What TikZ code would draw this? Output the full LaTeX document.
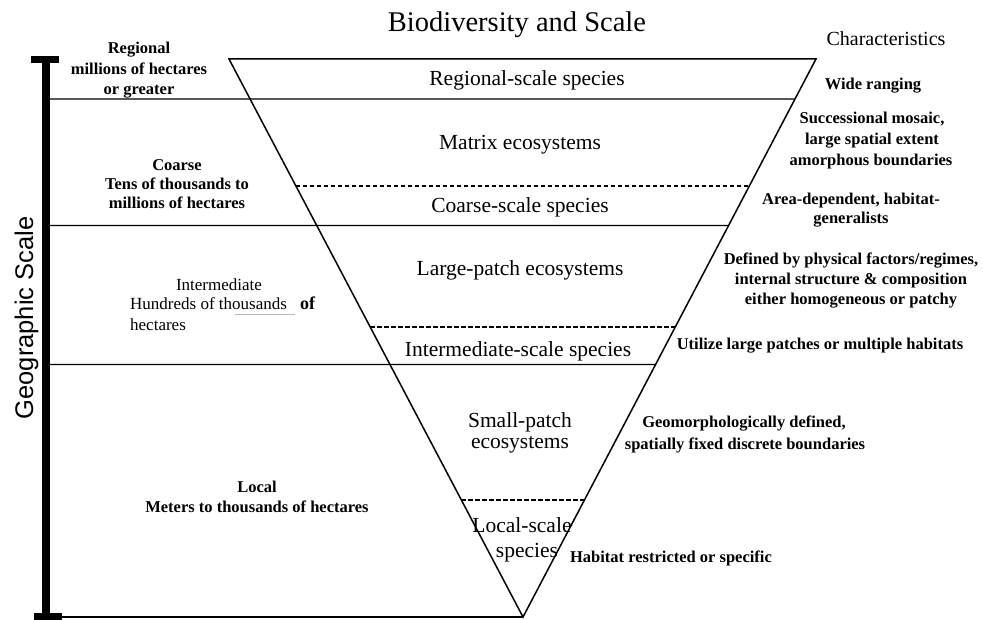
\documentclass[tikz,border=0pt]{standalone}
\usepackage{fontspec}
\setmainfont{Liberation Serif}
\newfontfamily\axisfont{Liberation Sans}
\usetikzlibrary{calc}
\begin{document}
\begin{tikzpicture}[x=1pt,y=-1pt,
  edge/.style={line width=1.5pt, line join=miter},
  rule/.style={line width=1.4pt},
  split/.style={line width=1.4pt, dash pattern=on 4.5pt off 2.5pt},
  ttl/.style={font=\fontsize{28.5}{32}\selectfont, anchor=base, inner sep=0pt},
  head/.style={font=\fontsize{20}{22}\selectfont, anchor=base, inner sep=0pt},
  band/.style={font=\fontsize{21.5}{24}\selectfont, anchor=base, inner sep=0pt},
  note/.style={font=\bfseries\fontsize{16.5}{19}\selectfont, anchor=base, inner sep=0pt},
  plain/.style={font=\fontsize{17}{19}\selectfont, anchor=base, inner sep=0pt},
]
\useasboundingbox (0,0) rectangle (983,620);
\fill[white] (0,0) rectangle (983,620);

% corners of the inverted triangle
\coordinate (TL) at (229,59);
\coordinate (TR) at (816,59);
\coordinate (AP) at (523,617);

% scale boundaries (solid) running from the axis to the right edge
\draw[rule] (50,99)    -- ($(TR)!0.0717!(AP)$);
\draw[rule] (50,225.5) -- ($(TR)!0.2984!(AP)$);
\draw[rule] (50,364.5) -- ($(TR)!0.5475!(AP)$);
\draw[line width=2pt] (50,617) -- (AP);

% ecosystem / species splits (dashed) inside the triangle
\draw[split] ($(TL)!0.2276!(AP)$) -- ($(TR)!0.2276!(AP)$);
\draw[split] ($(TL)!0.4803!(AP)$) -- ($(TR)!0.4803!(AP)$);
\draw[split] ($(TL)!0.7903!(AP)$) -- ($(TR)!0.7903!(AP)$);

% the triangle itself
\draw[edge] (TL) -- (TR) -- (AP) -- cycle;

% geographic scale axis with end caps
\draw[line width=8pt] (46,59) -- (46,617);
\fill (31,56) rectangle (59,63);
\fill (34,613) rectangle (62,620);
\node[font=\axisfont\fontsize{25.5}{28}\selectfont, rotate=90, anchor=base, inner sep=0pt]
  (axis) at (33,318) {Geographic Scale};

% headings
\node[ttl]  (title)    at (517,32) {Biodiversity and Scale};
\node[head] (charhead) at (886,46) {Characteristics};

% scale classes (left)
\node[note] (reg1) at (139,54) {Regional};
\node[note] (reg2) at (139,75) {millions of hectares};
\node[note] (reg3) at (139,95) {or greater};

\node[note] (coa1) at (177,171) {Coarse};
\node[note] (coa2) at (177,190) {Tens of thousands to};
\node[note] (coa3) at (177,209) {millions of hectares};

\node[plain] (int1) at (219,291) {Intermediate};
\node[plain, anchor=base west] (int2) at (130,310) {Hundreds of thousands};
\node[font=\bfseries\fontsize{18}{20}\selectfont, anchor=base west, inner sep=0pt] (int3) at (300,310) {of};
\node[plain, anchor=base west] (int4) at (130,331) {hectares};
\draw[gray!55, line width=0.8pt] (235,314) -- (295,314);

\node[note] (loc1) at (257,492) {Local};
\node[note] (loc2) at (257,512) {Meters to thousands of hectares};

% levels inside the triangle
\node[band] (b1)  at (527,86)  {Regional-scale species};
\node[band] (b2)  at (520,150) {Matrix ecosystems};
\node[band] (b3)  at (520,213) {Coarse-scale species};
\node[band] (b4)  at (520,276) {Large-patch ecosystems};
\node[band] (b5)  at (518,357) {Intermediate-scale species};
\node[band] (b6a) at (520,427) {Small-patch};
\node[band] (b6b) at (520,448) {ecosystems};
\node[band] (b7a) at (522,532) {Local-scale};
\node[band] (b7b) at (527,557) {species};

% characteristics (right)
\node[note] (c1)  at (873,90)  {Wide ranging};
\node[note] (c2a) at (872,124) {Successional mosaic,};
\node[note] (c2b) at (872,145) {large spatial extent};
\node[note] (c2c) at (871,166) {amorphous boundaries};
\node[note] (c3a) at (851,205) {Area-dependent, habitat-};
\node[note] (c3b) at (851,224) {generalists};
\node[note] (c4a) at (851,265) {Defined by physical factors/regimes,};
\node[note] (c4b) at (851,285) {internal structure \& composition};
\node[note] (c4c) at (851,305) {either homogeneous or patchy};
\node[note] (c5)  at (820,350) {Utilize large patches or multiple habitats};
\node[note] (c6a) at (744,428) {Geomorphologically defined,};
\node[note] (c6b) at (745,449) {spatially fixed discrete boundaries};
\node[note] (c7)  at (671,562) {Habitat restricted or specific};
\end{tikzpicture}
\end{document}
